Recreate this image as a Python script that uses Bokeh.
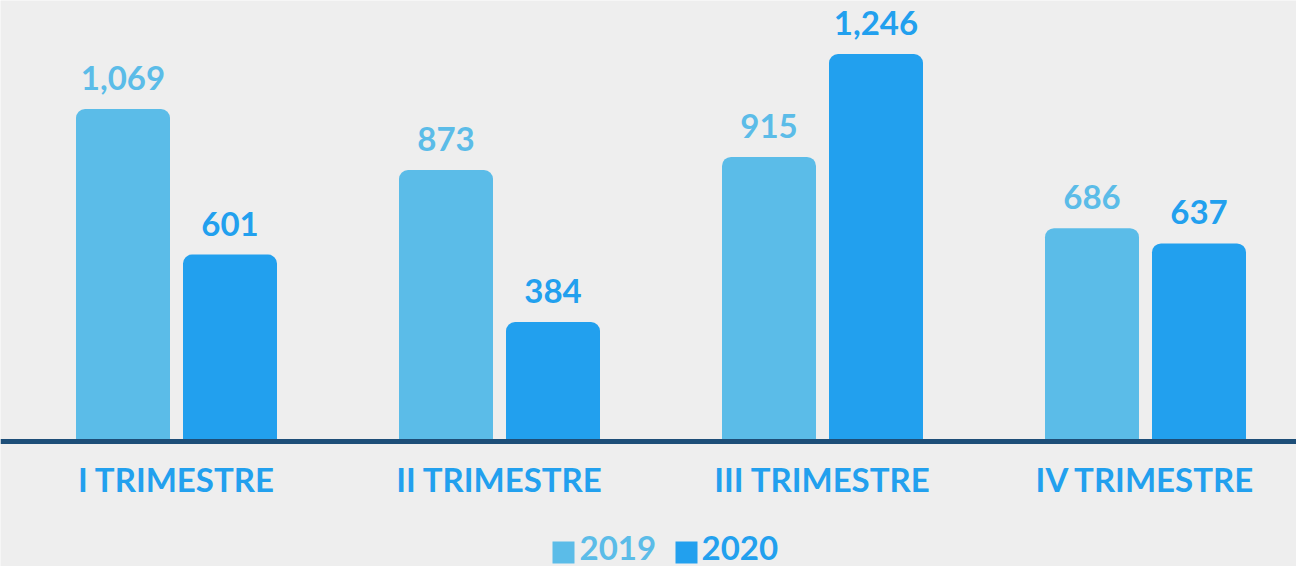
from bokeh.plotting import figure
from bokeh.models import Range1d, Span, ColumnDataSource
from bokeh.core.properties import value
from bokeh.embed import file_html
from bokeh.resources import INLINE

# ---- data ----
quarters = ["I TRIMESTRE", "II TRIMESTRE", "III TRIMESTRE", "IV TRIMESTRE"]
v2019 = [1069, 873, 915, 686]
v2020 = [601, 384, 1246, 637]
years = ["2019", "2020"]

# ---- style ----
C19 = "#5bbce8"
C20 = "#22a0ee"
BG = "#eeeeee"
LINE = "#1d4e78"
FONT = value("Lato")
W, H = 1296, 566
GROUP_PX = 323.0      # pixels between quarter groups
Y_PX = 0.311          # pixels per unit
BASE_PX = 441         # baseline, pixels from top of figure
X_START = -176 / GROUP_PX
SHIFT = 14            # baseline correction for svg text
FS = "33px"


def px_x(px):
    return X_START + px / GROUP_PX


def px_y(py):
    return (BASE_PX - py) / Y_PX


p = figure(width=W, height=H,
           x_range=Range1d(X_START, X_START + W / GROUP_PX),
           y_range=Range1d(-(H - BASE_PX) / Y_PX, BASE_PX / Y_PX),
           output_backend="svg", toolbar_location=None, min_border=0)
p.axis.visible = False
p.grid.visible = False
p.outline_line_color = None
p.background_fill_color = BG
p.border_fill_color = BG

xs = list(range(len(quarters)))
off = 53.5 / GROUP_PX
bw = 94 / GROUP_PX
src = ColumnDataSource(dict(
    x=xs, q=quarters, a=v2019, b=v2020,
    x19=[x - off for x in xs], x20=[x + off for x in xs],
    la=[f"{v:,}" for v in v2019], lb=[f"{v:,}" for v in v2020],
    zero=[0] * len(xs),
))

p.vbar(x="x19", top="a", bottom=0, width=bw, source=src, fill_color=C19,
       line_color=None, border_radius=(9, 9, 0, 0))
p.vbar(x="x20", top="b", bottom=0, width=bw, source=src, fill_color=C20,
       line_color=None, border_radius=(9, 9, 0, 0))

common = dict(text_font=FONT, text_font_style="bold", text_align="center",
              text_baseline="alphabetic", source=src)
p.text(x="x19", y="a", text="la", text_color=C19, text_font_size=FS,
       y_offset=-17 - SHIFT, **common)
p.text(x="x20", y="b", text="lb", text_color=C20, text_font_size=FS,
       y_offset=-17 - SHIFT, **common)
p.text(x="x", y="zero", text="q", text_color=C20, text_font_size=FS,
       y_offset=51 - SHIFT, **common)

p.add_layout(Span(location=0, dimension="width", line_color=LINE, line_width=5))

# legend (custom)
leg_y_sq = px_y(552)
leg_y_tx = px_y(561 - SHIFT)
sq_x = [px_x(563), px_x(686)]
tx_x = [px_x(579), px_x(701)]
cols = [C19, C20]
p.rect(x=sq_x, y=[leg_y_sq] * 2, width=22, height=22, width_units="screen",
       height_units="screen", fill_color=cols, line_color=None)
p.text(x=tx_x, y=[leg_y_tx] * 2, text=years, text_color=cols,
       text_font=FONT, text_font_style="bold", text_font_size=FS,
       text_align="left", text_baseline="alphabetic")

open("out.html", "w").write(file_html(p, INLINE))
